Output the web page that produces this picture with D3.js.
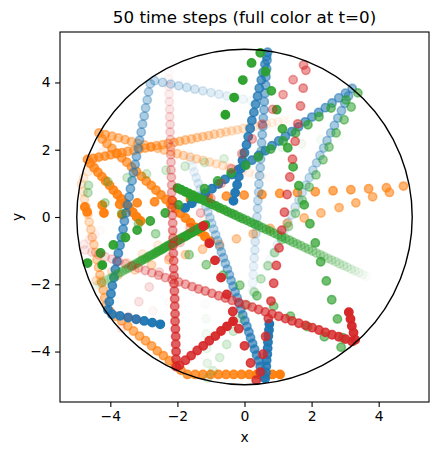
<!DOCTYPE html>
<html>
<head>
<meta charset="utf-8">
<script src="https://cdn.jsdelivr.net/npm/d3@7"></script>
<style>
  body { margin: 0; background: #fff; }
  svg text { font-family: "DejaVu Sans", sans-serif; fill: #000; }
</style>
</head>
<body>
<svg id="chart" width="439" height="455"></svg>
<script>
// positions, index = time step (t=0 first)
const blue1 = [[-2.51,-3.19],[-2.75,-3.14],[-2.99,-3.09],[-3.23,-3.04],[-3.47,-2.99],[-3.71,-2.94],[-3.95,-2.89],[-4.07,-2.76],[-4.03,-2.52],[-3.98,-2.28],[-3.94,-2.04],[-3.89,-1.80],[-3.85,-1.56],[-3.80,-1.32],[-3.76,-1.08],[-3.71,-0.84],[-3.67,-0.60],[-3.62,-0.36],[-3.58,-0.12],[-3.53,0.12],[-3.49,0.36],[-3.44,0.60],[-3.40,0.84],[-3.35,1.08],[-3.31,1.32],[-3.26,1.56],[-3.22,1.80],[-3.17,2.04],[-3.13,2.28],[-3.08,2.52],[-3.04,2.76],[-2.99,3.00],[-2.95,3.24],[-2.90,3.48],[-2.86,3.72],[-2.81,3.96],[-2.68,4.05],[-2.44,4.00],[-2.20,3.95],[-1.96,3.90],[-1.72,3.85],[-1.48,3.80],[-1.24,3.75],[-1.00,3.70],[-0.76,3.65],[-0.52,3.60],[-0.28,3.55],[-0.04,3.50],[0.20,3.45],[0.44,3.40]];
const blue2 = [[-0.33,0.48],[-0.28,0.72],[-0.22,0.96],[-0.17,1.20],[-0.11,1.44],[-0.06,1.68],[0.00,1.91],[0.06,2.15],[0.11,2.39],[0.17,2.63],[0.22,2.87],[0.28,3.11],[0.33,3.35],[0.39,3.59],[0.44,3.83],[0.50,4.07],[0.55,4.30],[0.61,4.54],[0.66,4.78],[0.69,4.90],[0.67,4.66],[0.66,4.41],[0.64,4.17],[0.63,3.92],[0.61,3.68],[0.59,3.43],[0.58,3.19],[0.56,2.94],[0.55,2.70],[0.53,2.45],[0.51,2.21],[0.50,1.96],[0.48,1.72],[0.47,1.47],[0.45,1.23],[0.43,0.98],[0.42,0.74],[0.40,0.49],[0.39,0.25],[0.37,0.00],[0.35,-0.24],[0.34,-0.49],[0.32,-0.73],[0.31,-0.98],[0.29,-1.22],[0.27,-1.47],[0.26,-1.71],[0.24,-1.96],[0.23,-2.20],[0.21,-2.45]];
const blue3 = [[-1.77,0.27],[-1.57,0.41],[-1.37,0.55],[-1.17,0.70],[-0.97,0.84],[-0.78,0.98],[-0.58,1.12],[-0.38,1.26],[-0.18,1.41],[0.02,1.55],[0.22,1.69],[0.42,1.83],[0.62,1.97],[0.82,2.12],[1.02,2.26],[1.22,2.40],[1.41,2.54],[1.61,2.68],[1.81,2.83],[2.01,2.97],[2.21,3.11],[2.41,3.25],[2.61,3.39],[2.81,3.54],[3.01,3.68],[3.21,3.82],[3.10,3.60],[2.99,3.38],[2.89,3.16],[2.78,2.94],[2.68,2.72],[2.57,2.50],[2.46,2.27],[2.36,2.05],[2.25,1.83],[2.15,1.61],[2.04,1.39],[1.93,1.17],[1.83,0.95],[1.72,0.73],[1.62,0.51],[1.51,0.29],[1.40,0.06],[1.30,-0.16],[1.19,-0.38],[1.09,-0.60],[0.98,-0.82],[0.87,-1.04],[0.77,-1.26],[0.66,-1.48]];
const blue4 = [[0.74,-3.18],[0.73,-3.36],[0.71,-3.54],[0.70,-3.72],[0.69,-3.90],[0.68,-4.08],[0.66,-4.26],[0.65,-4.44],[0.64,-4.62],[0.62,-4.80],[0.59,-4.78],[0.53,-4.61],[0.47,-4.44],[0.42,-4.27],[0.36,-4.10],[0.30,-3.93],[0.24,-3.76],[0.18,-3.59],[0.13,-3.42],[0.07,-3.25],[0.01,-3.08],[-0.05,-2.91],[-0.11,-2.74],[-0.16,-2.57],[-0.22,-2.40],[-0.28,-2.23],[-0.34,-2.06],[-0.40,-1.89],[-0.45,-1.72],[-0.51,-1.55],[-0.57,-1.38],[-0.63,-1.21],[-0.69,-1.04],[-0.74,-0.87],[-0.80,-0.70],[-0.86,-0.53],[-0.92,-0.36],[-0.98,-0.19],[-1.03,-0.02],[-1.09,0.15],[-1.15,0.32],[-1.21,0.49],[-1.27,0.66],[-1.32,0.83],[-1.38,1.00],[-1.44,1.17],[-1.50,1.34],[-1.56,1.51],[-1.61,1.68],[-1.67,1.85]];

const orange1 = [[1.06,-4.68],[0.83,-4.68],[0.60,-4.68],[0.37,-4.68],[0.14,-4.68],[-0.09,-4.68],[-0.32,-4.68],[-0.55,-4.68],[-0.78,-4.68],[-1.01,-4.68],[-1.24,-4.68],[-1.47,-4.68],[-1.70,-4.68],[-1.89,-4.56],[-2.07,-4.42],[-2.24,-4.27],[-2.42,-4.12],[-2.60,-3.98],[-2.77,-3.83],[-2.95,-3.68],[-3.13,-3.54],[-3.31,-3.39],[-3.48,-3.24],[-3.66,-3.09],[-3.84,-2.95],[-4.01,-2.80],[-4.12,-2.62],[-4.17,-2.40],[-4.21,-2.17],[-4.26,-1.95],[-4.31,-1.72],[-4.35,-1.50],[-4.40,-1.27],[-4.44,-1.05],[-4.49,-0.82],[-4.54,-0.60],[-4.58,-0.37],[-4.63,-0.15],[-4.67,0.08],[-4.72,0.30],[-4.77,0.53],[-4.81,0.75],[-4.86,0.98],[-4.80,1.16],[-4.67,1.35],[-4.53,1.53],[-4.40,1.72],[-4.26,1.91],[-4.13,2.10],[-4.00,2.28]];
const orange2 = [[-3.10,-0.12],[-3.22,0.01],[-3.33,0.14],[-3.45,0.28],[-3.56,0.41],[-3.68,0.54],[-3.79,0.67],[-3.91,0.80],[-4.02,0.94],[-4.14,1.07],[-4.25,1.20],[-4.37,1.33],[-4.48,1.46],[-4.60,1.60],[-4.68,1.71],[-4.51,1.74],[-4.34,1.78],[-4.16,1.81],[-3.99,1.85],[-3.82,1.88],[-3.65,1.91],[-3.48,1.95],[-3.30,1.98],[-3.13,2.02],[-2.96,2.05],[-2.79,2.08],[-2.62,2.12],[-2.44,2.15],[-2.27,2.19],[-2.10,2.22],[-1.93,2.25],[-1.76,2.29],[-1.58,2.32],[-1.41,2.36],[-1.24,2.39],[-1.07,2.42],[-0.90,2.46],[-0.72,2.49],[-0.55,2.53],[-0.38,2.56],[-0.21,2.59],[-0.04,2.63],[0.14,2.66],[0.31,2.70],[0.48,2.73],[0.65,2.76],[0.82,2.80],[1.00,2.83],[1.17,2.87],[1.34,2.90]];
const orange3 = [[-3.65,0.07],[-4.19,0.12],[-4.69,0.15],[-4.76,0.30],[-4.24,0.35],[-3.72,0.38],[-3.20,0.42],[-2.68,0.45],[-2.15,0.48],[-1.61,0.52],[-1.08,0.57],[-0.54,0.62],[-0.01,0.65],[0.52,0.67],[1.05,0.70],[1.58,0.73],[2.11,0.75],[2.64,0.78],[3.17,0.81],[3.70,0.84],[4.23,0.87],[4.74,0.92],[4.32,0.73],[3.82,0.60],[3.32,0.42],[2.82,0.28],[2.28,0.12],[1.78,-0.03],[1.27,-0.19],[0.77,-0.34],[0.26,-0.50],[-0.24,-0.65],[-0.75,-0.81],[-1.25,-0.96],[-1.76,-1.12],[-2.26,-1.27],[-2.77,-1.43],[-3.27,-1.58],[-3.78,-1.74],[-4.28,-1.89],[-4.42,-1.89],[-3.96,-1.63],[-3.50,-1.36],[-3.04,-1.10],[-2.58,-0.84],[-2.12,-0.57],[-1.66,-0.31],[-1.20,-0.05],[-0.74,0.22],[-0.28,0.48]];
const orange4 = [[-1.03,-0.72],[-1.18,-0.58],[-1.32,-0.44],[-1.47,-0.31],[-1.61,-0.17],[-1.76,-0.03],[-1.91,0.11],[-2.05,0.25],[-2.20,0.38],[-2.34,0.52],[-2.49,0.66],[-2.64,0.80],[-2.78,0.94],[-2.93,1.07],[-3.07,1.21],[-3.22,1.35],[-3.37,1.49],[-3.51,1.63],[-3.66,1.76],[-3.80,1.90],[-3.95,2.04],[-4.10,2.18],[-4.24,2.32],[-4.34,2.50],[-4.15,2.45],[-3.95,2.40],[-3.76,2.35],[-3.56,2.30],[-3.37,2.24],[-3.18,2.19],[-2.98,2.14],[-2.79,2.09],[-2.59,2.04],[-2.40,1.99],[-2.20,1.94],[-2.01,1.88],[-1.82,1.83],[-1.62,1.78],[-1.43,1.73],[-1.23,1.68],[-1.04,1.63],[-0.84,1.58],[-0.65,1.53],[-0.46,1.47],[-0.26,1.42],[-0.07,1.37],[0.13,1.32],[0.32,1.27],[0.52,1.22],[0.71,1.17]];

const green1 = [[-2.00,0.86],[-1.89,0.81],[-1.77,0.75],[-1.66,0.70],[-1.54,0.65],[-1.43,0.59],[-1.31,0.54],[-1.20,0.49],[-1.08,0.43],[-0.97,0.38],[-0.85,0.33],[-0.74,0.27],[-0.62,0.22],[-0.51,0.16],[-0.39,0.11],[-0.28,0.06],[-0.16,0.00],[-0.05,-0.05],[0.07,-0.10],[0.19,-0.16],[0.30,-0.21],[0.42,-0.26],[0.53,-0.32],[0.65,-0.37],[0.76,-0.42],[0.88,-0.48],[0.99,-0.53],[1.11,-0.58],[1.22,-0.64],[1.34,-0.69],[1.45,-0.75],[1.57,-0.80],[1.68,-0.85],[1.80,-0.91],[1.91,-0.96],[2.03,-1.01],[2.14,-1.07],[2.26,-1.12],[2.37,-1.17],[2.49,-1.23],[2.60,-1.28],[2.72,-1.33],[2.83,-1.39],[2.95,-1.44],[3.06,-1.49],[3.18,-1.55],[3.29,-1.60],[3.41,-1.65],[3.52,-1.71],[3.64,-1.76]];
const green2 = [[-1.17,-0.24],[-1.24,-0.28],[-1.30,-0.31],[-1.37,-0.35],[-1.44,-0.39],[-1.51,-0.43],[-1.57,-0.46],[-1.64,-0.50],[-1.71,-0.54],[-1.77,-0.58],[-1.84,-0.61],[-1.91,-0.65],[-1.97,-0.69],[-2.04,-0.72],[-2.11,-0.76],[-2.18,-0.80],[-2.24,-0.84],[-2.31,-0.87],[-2.38,-0.91],[-2.44,-0.95],[-2.51,-0.99],[-2.58,-1.02],[-2.64,-1.06],[-2.71,-1.10],[-2.78,-1.14],[-2.85,-1.17],[-2.91,-1.21],[-2.98,-1.25],[-3.05,-1.28],[-3.11,-1.32],[-3.18,-1.36],[-3.25,-1.40],[-3.31,-1.43],[-3.38,-1.47],[-3.45,-1.51],[-3.52,-1.55],[-3.58,-1.58],[-3.65,-1.62],[-3.72,-1.66],[-3.78,-1.69],[-3.85,-1.73],[-3.92,-1.77],[-3.98,-1.81],[-4.05,-1.84],[-4.12,-1.88],[-4.19,-1.92],[-4.25,-1.96],[-4.32,-1.99],[-4.39,-2.03],[-4.45,-2.07]];
const green3 = [[-0.57,3.04],[-0.31,3.55],[-0.05,4.07],[0.21,4.58],[0.47,4.88],[0.63,4.32],[0.80,3.75],[0.96,3.19],[1.13,2.62],[1.29,2.06],[1.45,1.49],[1.62,0.93],[1.78,0.36],[1.95,-0.20],[2.11,-0.77],[2.27,-1.33],[2.44,-1.90],[2.60,-2.46],[2.77,-3.03],[2.93,-3.59],[2.88,-3.87],[2.38,-3.56],[1.88,-3.26],[1.37,-2.95],[0.87,-2.65],[0.37,-2.34],[-0.14,-2.03],[-0.64,-1.73],[-1.14,-1.42],[-1.65,-1.12],[-2.15,-0.81],[-2.65,-0.50],[-3.16,-0.20],[-3.66,0.11],[-4.16,0.42],[-4.67,0.72],[-4.65,0.94],[-4.07,1.05],[-3.50,1.17],[-2.92,1.28],[-2.34,1.39],[-1.77,1.51],[-1.19,1.62],[-0.61,1.73],[-0.03,1.85],[0.54,1.96],[1.12,2.07],[1.70,2.18],[2.27,2.30],[2.85,2.41]];
const green4 = [[-4.24,-1.43],[-4.68,-1.37],[-4.29,-1.07],[-3.91,-0.83],[-3.55,-0.61],[-3.20,-0.39],[-2.81,-0.12],[-2.36,0.12],[-1.97,0.36],[-1.58,0.60],[-1.19,0.84],[-0.80,1.07],[-0.40,1.31],[0.04,1.54],[0.41,1.78],[0.78,2.02],[1.15,2.26],[1.52,2.50],[1.89,2.74],[2.22,2.98],[2.58,3.24],[3.03,3.48],[3.38,3.69],[3.18,3.27],[2.97,2.89],[2.73,2.50],[2.52,2.08],[2.34,1.70],[2.13,1.25],[1.93,0.89],[1.72,0.50],[1.52,0.11],[1.31,-0.28],[1.11,-0.67],[0.90,-1.06],[0.70,-1.45],[0.49,-1.84],[0.29,-2.23],[0.08,-2.62],[-0.12,-3.01],[-0.33,-3.40],[-0.53,-3.79],[-0.74,-4.18],[-0.94,-4.57],[-1.10,-4.79],[-1.11,-4.35],[-1.13,-3.91],[-1.14,-3.47],[-1.15,-3.03],[-1.17,-2.59]];

const red1 = [[-0.34,-3.10],[-0.52,-3.25],[-0.70,-3.39],[-0.87,-3.54],[-1.05,-3.68],[-1.23,-3.83],[-1.41,-3.97],[-1.59,-4.12],[-1.76,-4.26],[-1.94,-4.41],[-2.03,-4.45],[-2.04,-4.23],[-2.04,-4.00],[-2.05,-3.78],[-2.05,-3.55],[-2.06,-3.33],[-2.07,-3.10],[-2.07,-2.88],[-2.08,-2.65],[-2.08,-2.43],[-2.09,-2.20],[-2.10,-1.98],[-2.10,-1.75],[-2.11,-1.53],[-2.11,-1.30],[-2.12,-1.08],[-2.13,-0.85],[-2.13,-0.63],[-2.14,-0.40],[-2.14,-0.18],[-2.15,0.05],[-2.16,0.28],[-2.16,0.50],[-2.17,0.73],[-2.17,0.95],[-2.18,1.18],[-2.19,1.40],[-2.19,1.63],[-2.20,1.85],[-2.20,2.08],[-2.21,2.30],[-2.22,2.53],[-2.22,2.75],[-2.23,2.98],[-2.23,3.20],[-2.24,3.43],[-2.25,3.65],[-2.25,3.88],[-2.26,4.10],[-2.26,4.33]];
const red2 = [[3.11,-2.83],[3.16,-3.03],[3.20,-3.24],[3.25,-3.44],[3.30,-3.65],[3.21,-3.70],[3.01,-3.63],[2.81,-3.56],[2.61,-3.50],[2.41,-3.43],[2.22,-3.36],[2.02,-3.29],[1.82,-3.22],[1.62,-3.16],[1.42,-3.09],[1.22,-3.02],[1.02,-2.95],[0.82,-2.88],[0.62,-2.82],[0.42,-2.75],[0.23,-2.68],[0.03,-2.61],[-0.17,-2.54],[-0.37,-2.48],[-0.57,-2.41],[-0.77,-2.34],[-0.97,-2.27],[-1.17,-2.20],[-1.37,-2.14],[-1.56,-2.07],[-1.76,-2.00],[-1.96,-1.93],[-2.16,-1.86],[-2.36,-1.80],[-2.56,-1.73],[-2.76,-1.66],[-2.96,-1.59],[-3.16,-1.52],[-3.35,-1.46],[-3.55,-1.39],[-3.75,-1.32],[-3.95,-1.25],[-4.15,-1.18],[-4.35,-1.12],[-4.55,-1.05],[-4.75,-0.98],[-4.78,-0.81],[-4.62,-0.67],[-4.46,-0.54],[-4.30,-0.40]];
const red3 = [[-1.23,-0.27],[-1.05,-0.78],[-0.88,-1.29],[-0.70,-1.80],[-0.53,-2.30],[-0.35,-2.81],[-0.17,-3.32],[0.00,-3.83],[0.18,-4.34],[0.35,-4.85],[0.47,-4.61],[0.55,-4.08],[0.63,-3.55],[0.71,-3.02],[0.79,-2.50],[0.87,-1.97],[0.95,-1.44],[1.03,-0.92],[1.11,-0.39],[1.19,0.14],[1.27,0.67],[1.35,1.19],[1.43,1.72],[1.51,2.25],[1.59,2.77],[1.67,3.30],[1.75,3.83],[1.83,4.36],[1.76,4.52],[1.45,4.08],[1.15,3.64],[0.84,3.20],[0.53,2.76],[0.23,2.32],[-0.08,1.88],[-0.39,1.44],[-0.69,1.00],[-1.00,0.56],[-1.31,0.12],[-1.61,-0.32],[-1.92,-0.76],[-2.23,-1.20],[-2.54,-1.64],[-2.84,-2.08],[-3.15,-2.52],[-3.46,-2.96],[-3.67,-3.31],[-3.20,-3.05],[-2.73,-2.79],[-2.26,-2.54]];

const tickValues = [-4, -2, 0, 2, 4];
const radius = 5;
const nSteps = 50;

const particles = [
  { color: '#ff7f0e', pts: orange1 },
  { color: '#ff7f0e', pts: orange2 },
  { color: '#ff7f0e', pts: orange3 },
  { color: '#ff7f0e', pts: orange4 },
  { color: '#1f77b4', pts: blue1 },
  { color: '#1f77b4', pts: blue2 },
  { color: '#1f77b4', pts: blue3 },
  { color: '#1f77b4', pts: blue4 },
  { color: '#2ca02c', pts: green1 },
  { color: '#2ca02c', pts: green2 },
  { color: '#2ca02c', pts: green3 },
  { color: '#2ca02c', pts: green4 },
  { color: '#d62728', pts: red1 },
  { color: '#d62728', pts: red2 },
  { color: '#d62728', pts: red3 }
];

function makeChart() {
  const svg = d3.select('#chart');
  const left = 60, right = 429, top = 32, bottom = 402;

  const x = d3.scaleLinear().domain([-5.5, 5.5]).range([left, right]);
  const y = d3.scaleLinear().domain([-5.5, 5.5]).range([bottom, top]);
  const fmt = (d) => String(d).replace('-', '\u2212');

  svg.append('defs').append('clipPath').attr('id', 'clip')
    .append('rect')
    .attr('x', left).attr('y', top)
    .attr('width', right - left).attr('height', bottom - top);

  const plot = svg.append('g').attr('clip-path', 'url(#clip)');

  // one scatter per particle, alpha falls off with time
  particles.forEach((p) => {
    plot.append('g')
      .selectAll('circle')
      .data(p.pts)
      .enter()
      .append('circle')
      .attr('cx', (d) => x(d[0]))
      .attr('cy', (d) => y(d[1]))
      .attr('r', 4.17)
      .attr('fill', p.color)
      .attr('stroke', p.color)
      .attr('stroke-width', 1.5)
      .attr('fill-opacity', (d, i) => 1 - i / nSteps)
      .attr('stroke-opacity', (d, i) => 1 - i / nSteps);
  });

  // boundary circle
  plot.append('circle')
    .attr('cx', x(0))
    .attr('cy', y(0))
    .attr('r', x(radius) - x(0))
    .attr('fill', 'none')
    .attr('stroke', '#000')
    .attr('stroke-width', 1.4);

  // axes
  const xAxis = svg.append('g')
    .attr('transform', `translate(0, ${bottom})`)
    .call(d3.axisBottom(x).tickValues(tickValues).tickFormat(fmt).tickSize(4.9).tickSizeOuter(0).tickPadding(4.5));
  const yAxis = svg.append('g')
    .attr('transform', `translate(${left}, 0)`)
    .call(d3.axisLeft(y).tickValues(tickValues).tickFormat(fmt).tickSize(4.9).tickSizeOuter(0).tickPadding(4.5));
  [xAxis, yAxis].forEach((a) => {
    a.select('.domain').remove();
    a.selectAll('line').attr('stroke', '#000').attr('stroke-width', 1.1);
    a.selectAll('text').attr('font-size', '13.9px').attr('font-family', 'DejaVu Sans');
  });

  svg.append('rect')
    .attr('x', left).attr('y', top)
    .attr('width', right - left).attr('height', bottom - top)
    .attr('fill', 'none')
    .attr('stroke', '#000')
    .attr('stroke-width', 1.1);

  svg.append('text')
    .attr('x', (left + right) / 2)
    .attr('y', 23)
    .attr('text-anchor', 'middle')
    .attr('font-size', '16.7px')
    .text('50 time steps (full color at t=0)');

  svg.append('text')
    .attr('x', (left + right) / 2)
    .attr('y', 442)
    .attr('text-anchor', 'middle')
    .attr('font-size', '13.9px')
    .text('x');

  svg.append('text')
    .attr('transform', `translate(22, ${(top + bottom) / 2}) rotate(-90)`)
    .attr('text-anchor', 'middle')
    .attr('font-size', '13.9px')
    .text('y');
}

window.onload = function () {
  makeChart();
};
</script>
</body>
</html>
